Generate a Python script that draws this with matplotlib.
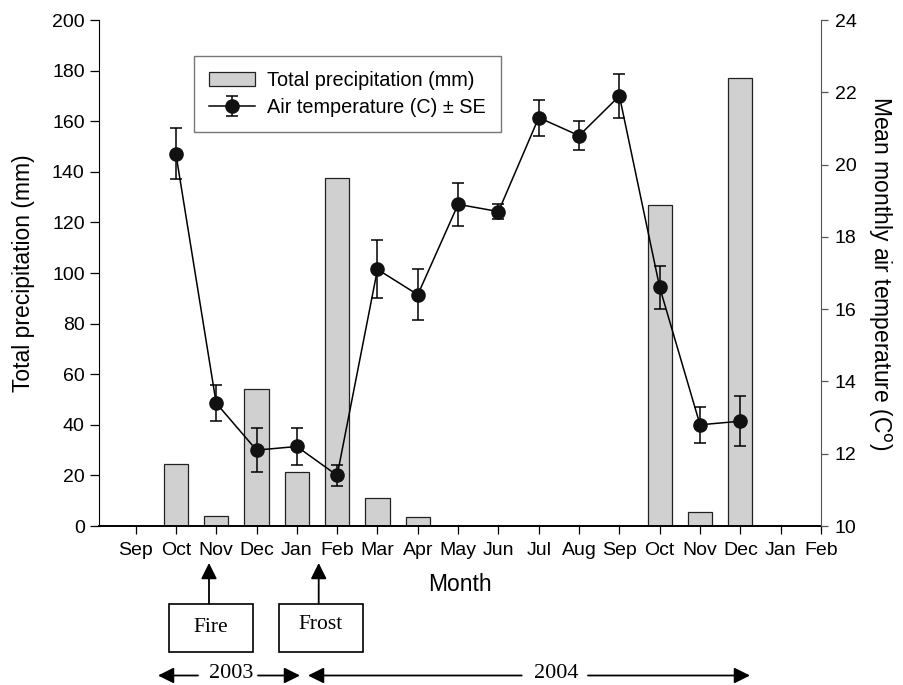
import numpy as np
import matplotlib.pyplot as plt
from matplotlib.patches import Rectangle

plt.rcParams['font.family'] = ['Liberation Sans', 'DejaVu Sans']

months = ['Sep', 'Oct', 'Nov', 'Dec', 'Jan', 'Feb', 'Mar', 'Apr', 'May',
          'Jun', 'Jul', 'Aug', 'Sep', 'Oct', 'Nov', 'Dec', 'Jan', 'Feb']
precip = [0, 24.5, 4, 54.3, 21.2, 137.5, 11, 3.4, 0, 0, 0, 0, 0, 127, 5.5, 177, 0, 0]
temp = [np.nan, 20.3, 13.4, 12.1, 12.2, 11.4, 17.1, 16.4, 18.9, 18.7,
        21.3, 20.8, 21.9, 16.6, 12.8, 12.9, np.nan, np.nan]
temp_se = [np.nan, 0.7, 0.5, 0.6, 0.5, 0.3, 0.8, 0.7, 0.6, 0.2,
           0.5, 0.4, 0.6, 0.6, 0.5, 0.7, np.nan, np.nan]

x = np.arange(len(months))
temp = np.array(temp)
temp_se = np.array(temp_se)
ok = ~np.isnan(temp)

fig = plt.figure(figsize=(9.04, 6.85), dpi=100)
ax = fig.add_axes([0.1098, 0.2321, 0.7984, 0.7387])

bars = ax.bar(x, precip, width=0.6, color='#d0d0d0', edgecolor='#222222',
              linewidth=0.9, label='Total precipitation (mm)')
ax.set_xlim(-0.9, 17)
ax.set_ylim(0, 200)
ax.set_yticks(np.arange(0, 201, 20))
ax.set_xticks(x)
ax.set_xticklabels(months)
ax.spines['top'].set_visible(False)
ax.spines['right'].set_visible(False)
ax.spines['bottom'].set_linewidth(1.4)
ax.tick_params(axis='y', direction='out', length=6.5, width=0.9, labelsize=14, pad=4)
ax.tick_params(axis='x', direction='out', length=5.5, width=0.9, labelsize=14, pad=6)
ax.set_ylabel('Total precipitation (mm)', fontsize=16.5, labelpad=12)
ax.set_xlabel('Month', fontsize=16.5, labelpad=10)

ax2 = ax.twinx()
eb = ax2.errorbar(x[ok], temp[ok], yerr=temp_se[ok], fmt='-o', color='black',
                  markerfacecolor='#111111', markeredgecolor='#111111',
                  markersize=9.5, linewidth=1.1, elinewidth=1.1, capsize=4,
                  capthick=1.1, label='Air temperature (C) \u00b1 SE')
ax2.set_ylim(10, 24)
ax2.set_yticks(np.arange(10, 25, 2))
ax2.spines['top'].set_visible(False)
ax2.spines['left'].set_visible(False)
ax2.spines['bottom'].set_visible(False)
ax2.spines['right'].set_color('#555555')
ax2.tick_params(axis='y', direction='out', length=5, width=0.9, labelsize=14,
                pad=5, color='#555555')
ax2.set_ylabel('Mean monthly air temperature (C$^{\\mathrm{o}}$)', fontsize=16.5,
               rotation=270, labelpad=26)

leg = ax2.legend([bars, eb], ['Total precipitation (mm)', 'Air temperature (C) \u00b1 SE'],
                 loc='upper left', bbox_to_anchor=(0.1308, 0.9294), borderaxespad=0,
                 fontsize=14.3, frameon=True, fancybox=False, handlelength=2.35,
                 handletextpad=0.6, borderpad=0.75, labelspacing=0.42)
leg.get_frame().set_edgecolor('#555555')
leg.get_frame().set_linewidth(1.0)

# event boxes below the month axis (figure pixel positions)
H = 685.0
W = 904.0
for label, cx, cy, ax_x in [('Fire', 210.7, 627.8, 209), ('Frost', 320.7, 624.5, 318.7)]:
    box = Rectangle(((cx - 42) / W, (H - 651.5) / H), 84 / W, 48 / H,
                    transform=fig.transFigure, fill=False, edgecolor='black', linewidth=1.2)
    fig.patches.append(box)
    fig.text(cx / W, (H - cy) / H, label, ha='center', va='center',
             family='Liberation Serif', fontsize=15.5)
    ax.annotate('', xy=(ax_x, H - 563), xytext=(ax_x, H - 603.5),
                xycoords='figure pixels', textcoords='figure pixels',
                arrowprops=dict(arrowstyle='-|>,head_length=0.8,head_width=0.4',
                                color='black', lw=1.3, mutation_scale=12,
                                shrinkA=0, shrinkB=0))

# year spans
yy = H - 675.5
for tail, tip in [(198, 158), (258, 300), (521.7, 308), (588, 750)]:
    ax.annotate('', xy=(tip, yy), xytext=(tail, yy),
                xycoords='figure pixels', textcoords='figure pixels',
                arrowprops=dict(arrowstyle='-|>,head_length=0.8,head_width=0.4',
                                color='black', lw=1.3, mutation_scale=12,
                                shrinkA=0, shrinkB=0))
fig.text(230.8 / W, (yy + 2) / H, '2003', ha='center', va='center',
         family='Liberation Serif', fontsize=16)
fig.text(555.8 / W, (yy + 2) / H, '2004', ha='center', va='center',
         family='Liberation Serif', fontsize=16)

fig.savefig('out.png', dpi=100)
